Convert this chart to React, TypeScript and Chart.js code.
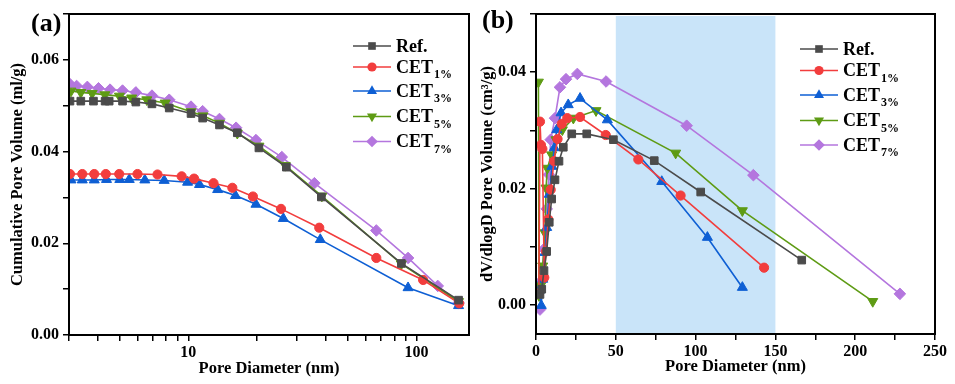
import React, { useEffect, useRef } from 'react';
import { Chart, registerables } from 'chart.js';
Chart.register(...registerables);

// ---------- series meta ----------
const seriesMain = ['Ref.', 'CET', 'CET', 'CET', 'CET'];
const seriesSub = ['', '1%', '3%', '5%', '7%'];
const seriesColors = ['#4b4b4b', '#f23d3d', '#0e5fd4', '#5e9b14', '#b476de'];
const seriesPointStyles = ['rect', 'circle', 'triangle', 'triangle', 'rectRot'];
const seriesPointRotation = [0, 0, 0, 180, 0];
const seriesPointRadius = [5.4, 4.6, 5.8, 5.8, 5.8];

// ---------- panel (a): cumulative pore volume ----------
const aRefX = [3.03, 3.38, 3.84, 4.32, 4.5, 5.15, 5.89, 6.93, 8.25, 10.28, 11.56, 13.7, 16.4, 20.4, 26.9, 38.3, 85.9, 153];
const aRefY = [0.051, 0.051, 0.051, 0.051, 0.051, 0.051, 0.0508, 0.0504, 0.0495, 0.0483, 0.0473, 0.0458, 0.0441, 0.0408, 0.0366, 0.0301, 0.0156, 0.0076];
const aC1X = [3.03, 3.43, 3.87, 4.35, 4.98, 5.99, 7.33, 9.35, 10.6, 12.9, 15.6, 19.2, 25.5, 37.5, 66.7, 107, 154];
const aC1Y = [0.0351, 0.0351, 0.0351, 0.0351, 0.0351, 0.0351, 0.035, 0.0346, 0.0341, 0.0331, 0.0321, 0.0302, 0.0275, 0.0234, 0.0168, 0.012, 0.0069];
const aC3X = [3.06, 3.43, 3.87, 4.38, 5.01, 5.51, 6.45, 7.84, 9.93, 11.2, 13.45, 16.1, 19.8, 26.1, 37.9, 91.9, 153];
const aC3Y = [0.0338, 0.0338, 0.0338, 0.0339, 0.0339, 0.0339, 0.0338, 0.0337, 0.0333, 0.0328, 0.0317, 0.0304, 0.0285, 0.0254, 0.0208, 0.0103, 0.0064];
const aC5X = [3.06, 3.38, 3.79, 4.31, 4.99, 5.65, 6.58, 7.92, 10.28, 11.6, 13.7, 16.4, 20.4, 26.6, 38.5, 85.9, 153];
const aC5Y = [0.0532, 0.0529, 0.0527, 0.0524, 0.0521, 0.0517, 0.0513, 0.0506, 0.0487, 0.0478, 0.0462, 0.044, 0.0412, 0.037, 0.0303, 0.0155, 0.0073];
const aC7X = [3.03, 3.24, 3.61, 4.04, 4.54, 5.15, 5.89, 6.93, 8.25, 10.28, 11.56, 13.7, 16.2, 19.8, 25.7, 35.7, 66.7, 91.9, 124, 153];
const aC7Y = [0.0547, 0.0543, 0.0541, 0.0538, 0.0535, 0.0533, 0.0529, 0.0522, 0.0513, 0.0498, 0.0488, 0.0471, 0.0452, 0.0425, 0.0388, 0.0331, 0.0228, 0.0168, 0.0107, 0.007];
const aXTicks = [3, 4, 5, 6, 7, 8, 9, 10, 20, 30, 40, 50, 60, 70, 80, 90, 100];
const aXLabels = [10, 100];
const aYTicks = [0, 0.01, 0.02, 0.03, 0.04, 0.05, 0.06, 0.07];
const aYLabels = [0, 0.02, 0.04, 0.06];

// ---------- panel (b): dV/dlogD ----------
const bRefX = [2.5, 3.6, 5.0, 6.7, 8.3, 9.8, 11.9, 14.4, 17.1, 22.4, 31.8, 48.5, 74.1, 103.2, 166.5];
const bRefY = [0.0018, 0.0027, 0.0059, 0.0092, 0.0142, 0.0182, 0.0215, 0.0247, 0.0271, 0.0294, 0.0294, 0.0284, 0.0248, 0.0194, 0.0077];
const bC1X = [1.8, 2.5, 3.1, 4.0, 5.2, 6.2, 7.7, 9.2, 11.3, 13.5, 16.1, 19.6, 27.6, 43.7, 64.1, 90.6, 142.9];
const bC1Y = [0.002, 0.0315, 0.0275, 0.0268, 0.0047, 0.0092, 0.0147, 0.0198, 0.0247, 0.0285, 0.0311, 0.0321, 0.0323, 0.0292, 0.025, 0.0188, 0.0064];
const bC3X = [2.0, 3.3, 4.2, 5.6, 6.7, 8.3, 10.0, 11.5, 13.0, 15.7, 20.2, 27.6, 44.7, 78.8, 107.4, 129.3];
const bC3Y = [0.0025, -0.0001, 0.0044, 0.009, 0.0133, 0.019, 0.0238, 0.027, 0.0301, 0.033, 0.0344, 0.0355, 0.0318, 0.0212, 0.0116, 0.003];
const bC5X = [1.5, 1.9, 2.9, 4.2, 5.6, 6.3, 7.1, 9.8, 12.5, 16.5, 23.4, 37.6, 87.5, 129.3, 211];
const bC5Y = [0.0383, 0.0016, 0.0033, 0.0067, 0.0124, 0.0201, 0.0235, 0.0258, 0.0284, 0.0301, 0.0321, 0.0334, 0.0261, 0.0162, 0.0006];
const bC7X = [2.5, 3.6, 5.0, 6.7, 8.1, 9.2, 11.9, 15.0, 18.8, 25.9, 43.9, 94.4, 136.2, 228];
const bC7Y = [-0.0008, 0.0042, 0.0096, 0.0165, 0.0224, 0.0284, 0.0321, 0.0374, 0.0388, 0.0397, 0.0384, 0.0308, 0.0223, 0.0019];
const bXTicks = [0, 25, 50, 75, 100, 125, 150, 175, 200, 225, 250];
const bXLabels = [0, 50, 100, 150, 200, 250];
const bYTicks = [0, 0.01, 0.02, 0.03, 0.04, 0.05];
const bYLabels = [0, 0.02, 0.04];
const bShadeRange = [50, 150];

const FONT = '"Liberation Serif", "Times New Roman", serif';
const TICK_SIZE = 16;
const TITLE_SIZE = 16.5;

function pts(xs: number[], ys: number[]) {
  return xs.map((x, i) => ({ x, y: ys[i] }));
}

function makeDatasets(xs: number[][], ys: number[][]) {
  return xs.map((x, i) => ({
    label: seriesMain[i] + seriesSub[i],
    data: pts(x, ys[i]),
    borderColor: seriesColors[i],
    backgroundColor: seriesColors[i],
    pointBackgroundColor: seriesColors[i],
    pointBorderColor: seriesColors[i],
    pointStyle: seriesPointStyles[i],
    pointRotation: seriesPointRotation[i],
    pointRadius: seriesPointRadius[i],
    pointBorderWidth: 1,
    borderWidth: 1.6,
    tension: 0,
    fill: false,
  }));
}

function drawMarker(ctx: CanvasRenderingContext2D, style: string, rot: number, x: number, y: number, r: number, color: string) {
  ctx.save();
  ctx.fillStyle = color;
  ctx.beginPath();
  if (style === 'rect') {
    const s = r * Math.SQRT1_2;
    ctx.rect(x - s, y - s, 2 * s, 2 * s);
  } else if (style === 'circle') {
    ctx.arc(x, y, r, 0, Math.PI * 2);
  } else if (style === 'triangle') {
    const a0 = (rot * Math.PI) / 180;
    for (let k = 0; k < 3; k++) {
      const a = a0 + (k * 2 * Math.PI) / 3;
      const px = x + Math.sin(a) * r;
      const py = y - Math.cos(a) * r;
      if (k === 0) ctx.moveTo(px, py); else ctx.lineTo(px, py);
    }
    ctx.closePath();
  } else if (style === 'rectRot') {
    ctx.moveTo(x, y - r);
    ctx.lineTo(x + r, y);
    ctx.lineTo(x, y + r);
    ctx.lineTo(x - r, y);
    ctx.closePath();
  }
  ctx.fill();
  ctx.restore();
}

const framePlugin = {
  id: 'frame',
  afterDraw(chart: any) {
    const { ctx, chartArea } = chart;
    ctx.save();
    ctx.strokeStyle = '#000';
    ctx.lineWidth = 2;
    ctx.strokeRect(chartArea.left, chartArea.top, chartArea.right - chartArea.left, chartArea.bottom - chartArea.top);
    ctx.restore();
  },
};

const shadePlugin = {
  id: 'shade',
  beforeDatasetsDraw(chart: any, _args: any, opts: any) {
    if (!opts || !opts.range) return;
    const { ctx, chartArea, scales } = chart;
    const x0 = scales.x.getPixelForValue(opts.range[0]);
    const x1 = scales.x.getPixelForValue(opts.range[1]);
    ctx.save();
    ctx.fillStyle = opts.color;
    ctx.fillRect(x0, chartArea.top + 2, x1 - x0, chartArea.bottom - chartArea.top - 3);
    ctx.restore();
  },
};

const subLegendPlugin = {
  id: 'subLegend',
  afterDraw(chart: any, _args: any, opts: any) {
    const ctx: CanvasRenderingContext2D = chart.ctx;
    chart.data.datasets.forEach((ds: any, i: number) => {
      const y = opts.rows[i];
      const x0 = opts.x;
      const len = opts.lineLen;
      ctx.save();
      ctx.strokeStyle = ds.borderColor;
      ctx.lineWidth = 1.6;
      ctx.beginPath();
      ctx.moveTo(x0, y);
      ctx.lineTo(x0 + len, y);
      ctx.stroke();
      drawMarker(ctx, ds.pointStyle, ds.pointRotation, x0 + len / 2, y, ds.pointRadius, ds.backgroundColor);
      ctx.fillStyle = '#000';
      ctx.textBaseline = 'middle';
      ctx.textAlign = 'left';
      ctx.font = `bold 18px ${FONT}`;
      const tx = x0 + len + 5;
      ctx.fillText(seriesMain[i], tx, y + 1);
      const w = ctx.measureText(seriesMain[i]).width;
      if (seriesSub[i]) {
        ctx.font = `bold 12px ${FONT}`;
        ctx.fillText(seriesSub[i], tx + w + 1, y + 8);
      }
      ctx.restore();
    });
  },
};

const panelLabelPlugin = {
  id: 'panelLabel',
  afterDraw(chart: any, _args: any, opts: any) {
    const ctx: CanvasRenderingContext2D = chart.ctx;
    ctx.save();
    ctx.fillStyle = '#000';
    ctx.font = `bold 26px ${FONT}`;
    ctx.textBaseline = 'middle';
    ctx.textAlign = 'left';
    ctx.fillText(opts.text, opts.x, opts.y);
    ctx.restore();
  },
};

function axisCommon() {
  return {
    grid: { drawOnChartArea: false, drawTicks: true, tickLength: 6, color: '#000', lineWidth: 1.5 },
    border: { display: true, color: '#000', width: 2 },
  };
}

function buildConfig(panel: 'a' | 'b'): any {
  const isA = panel === 'a';
  const datasets = isA
    ? makeDatasets([aRefX, aC1X, aC3X, aC5X, aC7X], [aRefY, aC1Y, aC3Y, aC5Y, aC7Y])
    : makeDatasets([bRefX, bC1X, bC3X, bC5X, bC7X], [bRefY, bC1Y, bC3Y, bC5Y, bC7Y]);
  const xTicks = isA ? aXTicks : bXTicks;
  const xLabels = isA ? aXLabels : bXLabels;
  const yTicks = isA ? aYTicks : bYTicks;
  const yLabels = isA ? aYLabels : bYLabels;
  const yAxisWidth = isA ? 69 : 58;
  const xAxisHeight = isA ? 49 : 50;
  return {
    type: 'line',
    data: { datasets },
    plugins: [shadePlugin, framePlugin, subLegendPlugin, panelLabelPlugin],
    options: {
      animation: false,
      responsive: false,
      maintainAspectRatio: false,
      devicePixelRatio: 1,
      layout: { padding: isA ? { left: 0, top: 14, right: 9, bottom: 0 } : { left: 0, top: 14, right: 20, bottom: 0 } },
      plugins: {
        legend: { display: false },
        tooltip: { enabled: false },
        shade: isA ? {} : { range: bShadeRange, color: '#c9e4f9' },
        subLegend: isA
          ? { x: 353, lineLen: 38, rows: [46, 67, 91, 116.5, 141.5] }
          : { x: 800 - 478, lineLen: 38, rows: [49, 70.5, 95, 120.5, 145] },
        panelLabel: isA ? { text: '(a)', x: 31, y: 24 } : { text: '(b)', x: 4, y: 21 },
      },
      scales: {
        x: {
          type: isA ? 'logarithmic' : 'linear',
          min: isA ? 3 : 0,
          max: isA ? 170 : 250,
          ...axisCommon(),
          afterBuildTicks: (scale: any) => {
            scale.ticks = xTicks.map((v) => ({ value: v, major: xLabels.includes(v) }));
          },
          afterFit: (scale: any) => {
            scale.height = xAxisHeight;
          },
          ticks: {
            autoSkip: false,
            maxRotation: 0,
            minRotation: 0,
            padding: 2,
            color: '#000',
            font: { family: FONT, size: TICK_SIZE, weight: 'bold' },
            callback: (v: any) => (xLabels.includes(Number(v)) ? String(v) : ''),
          },
          title: {
            display: true,
            text: 'Pore Diameter (nm)',
            color: '#000',
            font: { family: FONT, size: TITLE_SIZE, weight: 'bold' },
            padding: isA ? 5 : 7,
          },
        },
        y: {
          type: 'linear',
          min: isA ? 0 : -0.005,
          max: isA ? 0.07 : 0.05,
          ...axisCommon(),
          afterBuildTicks: (scale: any) => {
            scale.ticks = yTicks.map((v) => ({ value: v }));
          },
          afterFit: (scale: any) => {
            scale.width = yAxisWidth;
          },
          ticks: {
            autoSkip: false,
            padding: 4,
            color: '#000',
            font: { family: FONT, size: TICK_SIZE, weight: 'bold' },
            callback: (v: any) => (yLabels.includes(Number(v)) ? Number(v).toFixed(2) : ''),
          },
          title: {
            display: true,
            text: isA ? 'Cumulative Pore Volume (ml/g)' : 'dV/dlogD Pore Volume (cm³/g)',
            color: '#000',
            font: { family: FONT, size: TITLE_SIZE, weight: 'bold' },
            padding: isA ? 8 : 0,
          },
        },
      },
    },
  };
}

export default function App() {
  const refA = useRef<HTMLCanvasElement | null>(null);
  const refB = useRef<HTMLCanvasElement | null>(null);

  useEffect(() => {
    const charts: Chart[] = [];
    if (refA.current) charts.push(new Chart(refA.current, buildConfig('a')));
    if (refB.current) charts.push(new Chart(refB.current, buildConfig('b')));
    return () => charts.forEach((c) => c.destroy());
  }, []);

  return (
    <div style={{ position: 'absolute', left: 0, top: 0, width: 955, height: 384, background: '#fff', overflow: 'hidden' }}>
      <canvas ref={refA} width={478} height={384} style={{ position: 'absolute', left: 0, top: 0, width: 478, height: 384 }} />
      <canvas ref={refB} width={477} height={384} style={{ position: 'absolute', left: 478, top: 0, width: 477, height: 384 }} />
    </div>
  );
}
